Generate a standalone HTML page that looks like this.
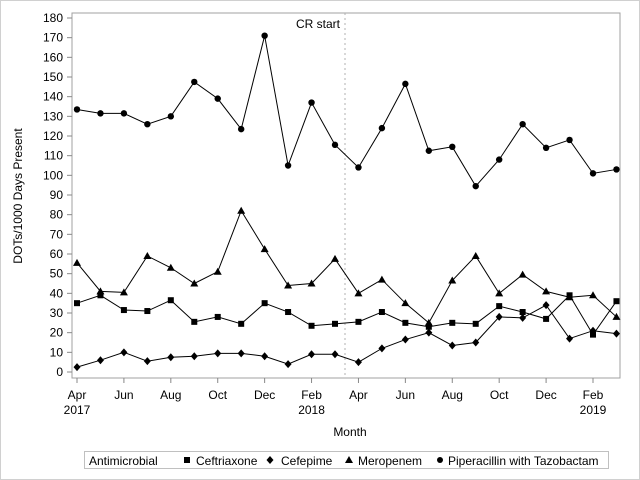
<!DOCTYPE html>
<html><head><meta charset="utf-8"><style>
html,body{margin:0;padding:0;background:#fff}
svg{display:block;font-family:"Liberation Sans",Arial,sans-serif}
</style></head><body>
<svg width="640" height="480" viewBox="0 0 640 480">
<rect x="0.5" y="0.5" width="639" height="479" fill="#fff" stroke="#d0d0d0"/>
<rect x="72" y="13" width="548" height="365" fill="none" stroke="#a0a0a0"/>
<g id="yaxis"></g>
<g id="xaxis"></g>
<line x1="345" x2="345" y1="13" y2="378" stroke="#b0b0b0" stroke-dasharray="2,3"/>
<text x="340" y="28" text-anchor="end" font-size="12" fill="#000">CR start</text>
<g id="series"></g>
<text transform="translate(22,196) rotate(-90)" text-anchor="middle" font-size="12">DOTs/1000 Days Present</text>
<text x="350" y="436" text-anchor="middle" font-size="12">Month</text>
<g>
<rect x="84.5" y="451.5" width="524" height="17" fill="#fff" stroke="#c0c0c0"/>
<text x="89" y="465" font-size="12">Antimicrobial</text>
<rect x="184" y="457" width="6" height="6" fill="#000"/>
<text x="196" y="465" font-size="12">Ceftriaxone</text>
<path d="M270,456 L273.5,460 L270,464 L266.5,460Z" fill="#000"/>
<text x="281" y="465" font-size="12">Cefepime</text>
<path d="M349,456 L353,463 L345,463Z" fill="#000"/>
<text x="358" y="465" font-size="12">Meropenem</text>
<circle cx="440" cy="460" r="3" fill="#000"/>
<text x="448" y="465" font-size="12">Piperacillin with Tazobactam</text>
</g>
</svg>
<script>
const months=["Apr","May","Jun","Jul","Aug","Sep","Oct","Nov","Dec","Jan","Feb","Mar","Apr","May","Jun","Jul","Aug","Sep","Oct","Nov","Dec","Jan","Feb","Mar"];
const yTicks=[0,10,20,30,40,50,60,70,80,90,100,110,120,130,140,150,160,170,180];
const piperacillin=[133.5,131.5,131.5,126,130,147.5,139,123.5,171,105,137,115.5,104,124,146.5,112.5,114.5,94.5,108,126,114,118,101,103];
const meropenem=[55.5,41,40.5,59,53,45,51,82,62.5,44,45,57.5,40,47,35,25,46.5,59,40,49.5,41,38,39,28];
const ceftriaxone=[35,39,31.5,31,36.5,25.5,28,24.5,35,30.5,23.5,24.5,25.5,30.5,25,23,25,24.5,33.5,30.5,27,39,19,36];
const cefepime=[2.5,6,10,5.5,7.5,8,9.5,9.5,8,4,9,9,5,12,16.5,20,13.5,15,28,27.5,34,17,21,19.5];
const NS="http://www.w3.org/2000/svg";
const xs=i=>77+i*(516/22);
const ys=v=>372-v*(354/180);
function mk(t,a,p){const e=document.createElementNS(NS,t);for(const k in a)e.setAttribute(k,a[k]);p.appendChild(e);return e;}
const ya=document.getElementById('yaxis');
yTicks.forEach(v=>{
 const l=mk('line',{x1:67,x2:72,y1:ys(v),y2:ys(v),stroke:'#888'},ya);
 
 
 const t=mk('text',{x:63,y:ys(v)+4,'text-anchor':'end','font-size':12},ya);
 t.textContent=v;
 
 
});
const xa=document.getElementById('xaxis');
months.forEach((m,i)=>{
 if(i%2)return;
 const l=mk('line',{x1:xs(i),x2:xs(i),y1:378,y2:383,stroke:'#888'},xa);
 
 
 const t=mk('text',{x:xs(i),y:399,'text-anchor':'middle','font-size':12},xa);
 t.textContent=m;
 
 
});
[[0,"2017"],[10,"2018"],[22,"2019"]].forEach(([i,y])=>{
 const t=mk('text',{x:xs(i),y:414,'text-anchor':'middle','font-size':12},xa);
 t.textContent=y;
 
 
});
const sg=document.getElementById('series');
function series(vals,name,shape){
 const g=mk('g',{},sg);
 
 
 const p=mk('polyline',{points:vals.map((v,i)=>xs(i)+','+ys(v)).join(' '),fill:'none',stroke:'#000','stroke-width':1},g);
 
 
 vals.forEach((v,i)=>{
  const x=xs(i),y=ys(v);let e;
  if(shape==='circle')e=mk('circle',{cx:x,cy:y,r:3.2},g);
  else if(shape==='square')e=mk('rect',{x:x-3,y:y-3,width:6,height:6},g);
  else if(shape==='tri')e=mk('path',{d:`M${x},${y-4}L${x+4},${y+3}L${x-4},${y+3}Z`},g);
  else e=mk('path',{d:`M${x},${y-4}L${x+3.5},${y}L${x},${y+4}L${x-3.5},${y}Z`},g);
  e.setAttribute('fill','#000');
  
  
 });
}
series(piperacillin,'piperacillin','circle');
series(meropenem,'meropenem','tri');
series(ceftriaxone,'ceftriaxone','square');
series(cefepime,'cefepime','diamond');
</script>
</body></html>
